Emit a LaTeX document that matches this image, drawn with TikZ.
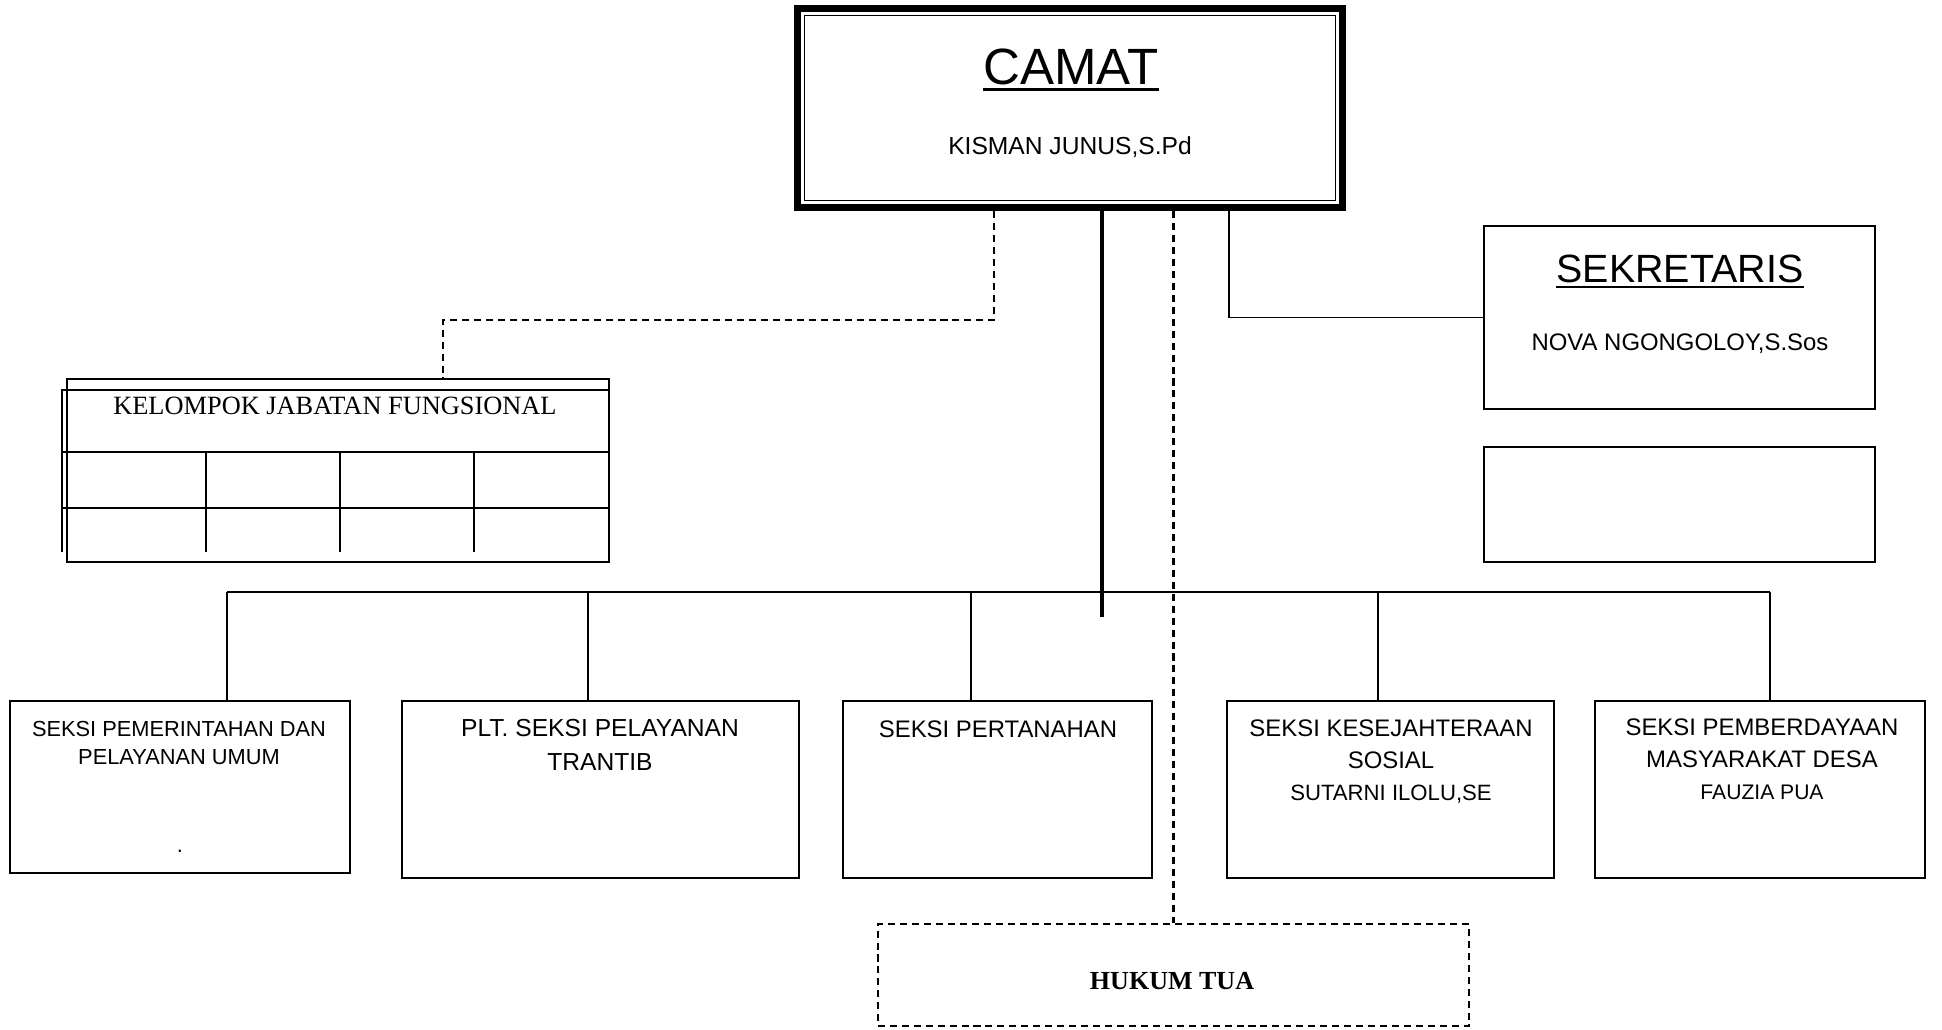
\documentclass[tikz,border=0pt]{standalone}
\usepackage{fontspec}
\setmainfont{Liberation Sans}
\newfontfamily\serifjab{Liberation Serif}
\usepackage{tikz}
\usetikzlibrary{calc}

\begin{document}
\begin{tikzpicture}[x=0.01cm, y=-0.01cm,
  kotak/.style={rectangle, draw, line width=0.5pt, inner sep=0pt},
  garis/.style={line width=0.5pt},
  putus/.style={line width=0.6pt, dash pattern=on 2pt off 1.4pt},
  teks/.style={inner sep=0pt, anchor=base, align=center}]
\useasboundingbox (0,0) rectangle (1942,1029);

\node[kotak, line width=2pt, minimum width=5.45cm, minimum height=1.99cm] (camat) at (1070,108) {};
\draw[double, line width=0.35pt, double distance=0.8pt] ([shift={(2.4pt,-2.4pt)}]camat.north west) rectangle ([shift={(-2.4pt,2.4pt)}]camat.south east);
\node[teks, font=\fontsize{14.5pt}{17pt}\selectfont] (camat-t) at (1071,84) {CAMAT};
\draw[line width=0.85pt] ([yshift=-1.7pt]camat-t.base west) -- ([yshift=-1.7pt]camat-t.base east);
\node[teks, font=\fontsize{7pt}{8pt}\selectfont] (camat-n) at (1070,154) {KISMAN JUNUS,S.Pd};

\node[kotak, minimum width=3.91cm, minimum height=1.83cm] (sekr) at (1679.5,317.5) {};
\node[teks, font=\fontsize{11.2pt}{13pt}\selectfont] (sekr-t) at (1680,282) {SEKRETARIS};
\draw[line width=0.6pt] ([yshift=-1.4pt]sekr-t.base west) -- ([yshift=-1.4pt]sekr-t.base east);
\node[teks, font=\fontsize{6.8pt}{8pt}\selectfont] (sekr-n) at (1680,350) {NOVA NGONGOLOY,S.Sos};
\node[kotak, minimum width=3.91cm, minimum height=1.15cm] (kosong) at (1679.5,504.5) {};

\node[kotak, minimum width=5.42cm, minimum height=1.83cm] (kjf) at (338,470.5) {};
\draw[garis] (609,390) -- (62,390) -- (62,552);
\draw[garis] (62,452) -- (609,452) (62,508) -- (609,508);
\foreach \kol in {206,340,474} \draw[garis] (\kol,452) -- (\kol,552);
\node[teks, font=\serifjab\fontsize{7.5pt}{9pt}\selectfont] (kjf-t) at (335,414) {KELOMPOK JABATAN FUNGSIONAL};

\node[kotak, minimum width=3.40cm, minimum height=1.72cm] (s1) at (180,787) {};
\node[kotak, minimum width=3.97cm, minimum height=1.77cm] (s2) at (600.5,789.5) {};
\node[kotak, minimum width=3.09cm, minimum height=1.77cm] (s3) at (997.5,789.5) {};
\node[kotak, minimum width=3.27cm, minimum height=1.77cm] (s4) at (1390.5,789.5) {};
\node[kotak, minimum width=3.30cm, minimum height=1.77cm] (s5) at (1760,789.5) {};

\node[teks, font=\fontsize{6.2pt}{7.7pt}\selectfont] (s1-t) at (179,764) {SEKSI PEMERINTAHAN DAN\\PELAYANAN UMUM};
\node[teks, font=\fontsize{6.2pt}{7.7pt}\selectfont] (s1-d) at (180,852) {.};
\node[teks, font=\fontsize{7pt}{9.6pt}\selectfont] (s2-t) at (600,770) {PLT. SEKSI PELAYANAN\\TRANTIB};
\node[teks, font=\fontsize{6.8pt}{9pt}\selectfont] (s3-t) at (998,737) {SEKSI PERTANAHAN};
\node[teks, font=\fontsize{6.8pt}{9pt}\selectfont] (s4-t) at (1391,800) {SEKSI KESEJAHTERAAN\\SOSIAL\\{\fontsize{6.3pt}{9pt}\selectfont SUTARNI ILOLU,SE}};
\node[teks, font=\fontsize{6.8pt}{9pt}\selectfont] (s5-t) at (1762,799) {SEKSI PEMBERDAYAAN\\MASYARAKAT DESA\\{\fontsize{6pt}{9pt}\selectfont FAUZIA PUA}};

\node[kotak, putus, minimum width=5.91cm, minimum height=1.02cm] (hukum) at (1173.5,975) {};
\node[teks, font=\serifjab\bfseries\fontsize{7.4pt}{9pt}\selectfont] (hukum-t) at (1172,989) {HUKUM TUA};

\coordinate (hub) at (1102,617);
\coordinate (kjf-belok) at (994,320);
\coordinate (kjf-turun) at (443,320);
\coordinate (sekr-cabang) at (1229,0);

\draw[line width=1.3pt] (camat.south -| hub) -- (hub);
\draw[putus] (camat.south -| kjf-belok) -- (kjf-belok) -- (kjf-turun) -- (kjf-turun |- kjf.north);
\draw[putus] (camat.south -| hukum.north) -- (hukum.north);
\draw[garis] (camat.south -| sekr-cabang) |- (sekr.west);

\foreach \nm/\dx in {s1/227,s2/588,s3/971,s4/1378,s5/1770} {
  \coordinate (tap-\nm) at (\dx,592);
  \draw[garis] (tap-\nm) -- (tap-\nm |- \nm.north);
}
\draw[garis] (tap-s1) -- (tap-s5);
\end{tikzpicture}
\end{document}
